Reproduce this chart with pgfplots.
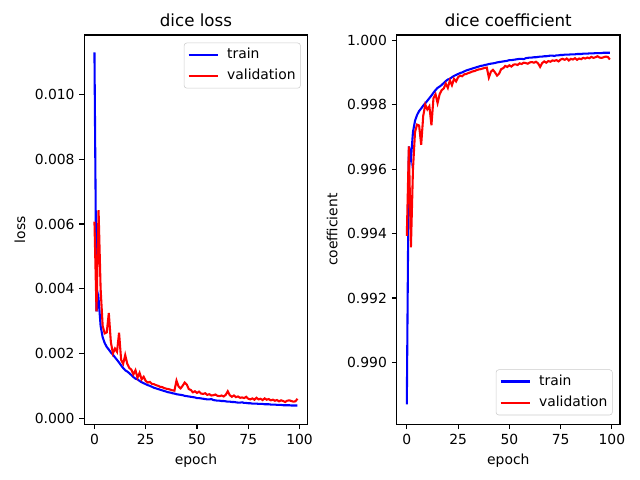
\documentclass[border=0pt]{standalone}
\usepackage{pgfplots}
\pgfplotsset{compat=1.18}
\usepackage{pgfplotstable}
\usepackage{fontspec}
\setmainfont{DejaVu Sans}

\pgfplotstableread{
epoch tl vl tc vc
0 0.01130 0.00607 0.98870 0.99393
1 0.00330 0.00330 0.99670 0.99670
2 0.00370 0.00643 0.99630 0.99357
3 0.00285 0.00400 0.99715 0.99600
4 0.00250 0.00285 0.99750 0.99715
5 0.00232 0.00262 0.99768 0.99738
6 0.00220 0.00265 0.99780 0.99735
7 0.00212 0.00325 0.99788 0.99675
8 0.00203 0.00235 0.99797 0.99765
9 0.00196 0.00200 0.99804 0.99800
10 0.00188 0.00215 0.99812 0.99785
11 0.00180 0.00205 0.99820 0.99795
12 0.00172 0.00264 0.99828 0.99736
13 0.00163 0.00180 0.99837 0.99820
14 0.00155 0.00168 0.99845 0.99832
15 0.00148 0.00195 0.99852 0.99805
16 0.00144 0.00168 0.99856 0.99832
17 0.00139 0.00155 0.99861 0.99845
18 0.00133 0.00150 0.99867 0.99850
19 0.00127 0.00135 0.99873 0.99865
20 0.00122 0.00148 0.99878 0.99852
21 0.00120 0.00125 0.99880 0.99875
22 0.00115 0.00140 0.99885 0.99860
23 0.00111 0.00120 0.99889 0.99880
24 0.00108 0.00128 0.99892 0.99872
25 0.00105 0.00115 0.99895 0.99885
26 0.00102 0.00110 0.99898 0.99890
27 0.00100 0.00112 0.99900 0.99888
28 0.00097 0.00106 0.99903 0.99894
29 0.00094 0.00105 0.99906 0.99895
30 0.00092 0.00102 0.99908 0.99898
31 0.00090 0.00100 0.99910 0.99900
32 0.00088 0.00097 0.99912 0.99903
33 0.00086 0.00096 0.99914 0.99904
34 0.00084 0.00093 0.99916 0.99907
35 0.00082 0.00091 0.99918 0.99909
36 0.00080 0.00090 0.99920 0.99910
37 0.00079 0.00088 0.99921 0.99912
38 0.00077 0.00086 0.99923 0.99914
39 0.00076 0.00085 0.99924 0.99915
40 0.00074 0.00116 0.99926 0.99884
41 0.00073 0.00098 0.99927 0.99902
42 0.00072 0.00092 0.99928 0.99908
43 0.00071 0.00100 0.99929 0.99900
44 0.00069 0.00110 0.99931 0.99890
45 0.00068 0.00104 0.99932 0.99896
46 0.00067 0.00090 0.99933 0.99910
47 0.00066 0.00087 0.99934 0.99913
48 0.00065 0.00080 0.99935 0.99920
49 0.00064 0.00083 0.99936 0.99917
50 0.00062 0.00078 0.99938 0.99922
51 0.00062 0.00082 0.99938 0.99918
52 0.00061 0.00076 0.99939 0.99924
53 0.00060 0.00075 0.99940 0.99925
54 0.00059 0.00077 0.99941 0.99923
55 0.00058 0.00072 0.99942 0.99928
56 0.00058 0.00074 0.99942 0.99926
57 0.00059 0.00070 0.99941 0.99930
58 0.00056 0.00071 0.99944 0.99929
59 0.00055 0.00073 0.99945 0.99927
60 0.00054 0.00069 0.99946 0.99931
61 0.00054 0.00068 0.99946 0.99932
62 0.00053 0.00070 0.99947 0.99930
63 0.00053 0.00067 0.99947 0.99933
64 0.00052 0.00072 0.99948 0.99928
65 0.00051 0.00083 0.99949 0.99917
66 0.00051 0.00071 0.99949 0.99929
67 0.00050 0.00066 0.99950 0.99934
68 0.00050 0.00070 0.99950 0.99930
69 0.00049 0.00065 0.99951 0.99935
70 0.00048 0.00067 0.99952 0.99933
71 0.00048 0.00063 0.99952 0.99937
72 0.00049 0.00064 0.99951 0.99936
73 0.00047 0.00062 0.99953 0.99938
74 0.00047 0.00066 0.99953 0.99934
75 0.00046 0.00060 0.99954 0.99940
76 0.00046 0.00058 0.99954 0.99942
77 0.00045 0.00061 0.99955 0.99939
78 0.00045 0.00057 0.99955 0.99943
79 0.00045 0.00063 0.99955 0.99937
80 0.00044 0.00058 0.99956 0.99942
81 0.00044 0.00060 0.99956 0.99940
82 0.00044 0.00056 0.99956 0.99944
83 0.00043 0.00061 0.99957 0.99939
84 0.00043 0.00057 0.99957 0.99943
85 0.00043 0.00059 0.99957 0.99941
86 0.00042 0.00055 0.99958 0.99945
87 0.00042 0.00057 0.99958 0.99943
88 0.00042 0.00054 0.99958 0.99946
89 0.00041 0.00056 0.99959 0.99944
90 0.00041 0.00052 0.99959 0.99948
91 0.00041 0.00055 0.99959 0.99945
92 0.00040 0.00053 0.99960 0.99947
93 0.00040 0.00050 0.99960 0.99950
94 0.00040 0.00054 0.99960 0.99946
95 0.00040 0.00055 0.99960 0.99945
96 0.00039 0.00053 0.99961 0.99947
97 0.00039 0.00051 0.99961 0.99949
98 0.00039 0.00052 0.99961 0.99948
99 0.00039 0.00060 0.99961 0.99940
}\dicedata

\pgfplotsset{
  mpl/.style={
    scale only axis,
    width=160.8pt, height=280.3pt,
    xmin=-4.95, xmax=103.95,
    xtick={0,25,50,75,100},
    tick align=outside, tick pos=left,
    major tick length=3.5pt,
    major tick style={black, line width=0.8pt},
    minor tick num=0,
    axis line style={line width=0.8pt},
    tick label style={font=\fontsize{10}{12}\selectfont},
    label style={font=\fontsize{10}{12}\selectfont},
    title style={font=\fontsize{12}{14}\selectfont, at={(0.5,1)}, anchor=south, inner sep=0pt, yshift=0pt},
    /pgf/number format/assume math mode=true,
    scaled y ticks=false,
    yticklabel style={/pgf/number format/.cd, fixed, fixed zerofill, precision=3},
    xlabel={epoch},
    legend cell align=left,
    legend image code/.code={\draw[##1] (0pt,0pt) -- (21pt,0pt);},
    legend style={font=\fontsize{10}{12}\selectfont, draw=black!20, rounded corners=2pt,
      fill=white, fill opacity=0.8, text opacity=1, inner xsep=2.5pt, inner ysep=2.5pt,
      nodes={inner sep=1pt, text height=7.6pt, text depth=2.4pt},
      row sep=3.6pt,
      /tikz/every odd column/.append style={column sep=5pt}},
  }
}

\begin{document}
\begin{tikzpicture}
\path[use as bounding box] (0,0) rectangle (460.8pt,345.6pt);
\begin{axis}[mpl,
  at={(60.7pt,40.1pt)}, anchor=south west,
  ymin=-0.00019, ymax=0.01184,
  ytick={0,0.002,0.004,0.006,0.008,0.010},
  ylabel={loss},
  title={dice loss},
  legend style={at={(1,1)}, anchor=north east, xshift=-5pt, yshift=-5.5pt},
]
\addplot[blue, line width=1.5pt] table[x=epoch, y=tl] {\dicedata};
\addlegendentry{train}
\addplot[red, line width=1.5pt] table[x=epoch, y=vl] {\dicedata};
\addlegendentry{validation}
\end{axis}
\begin{axis}[mpl,
  at={(285.6pt,40.1pt)}, anchor=south west,
  ymin=0.98808, ymax=1.00016,
  ytick={0.990,0.992,0.994,0.996,0.998,1.000},
  ylabel={coefficient},
  title={dice coefficient},
  legend style={at={(1,0)}, anchor=south east, xshift=-5.3pt, yshift=6.5pt},
]
\addplot[blue, line width=1.5pt] table[x=epoch, y=tc] {\dicedata};
\addlegendentry{train}
\addplot[red, line width=1.5pt] table[x=epoch, y=vc] {\dicedata};
\addlegendentry{validation}
\end{axis}
\end{tikzpicture}
\end{document}
